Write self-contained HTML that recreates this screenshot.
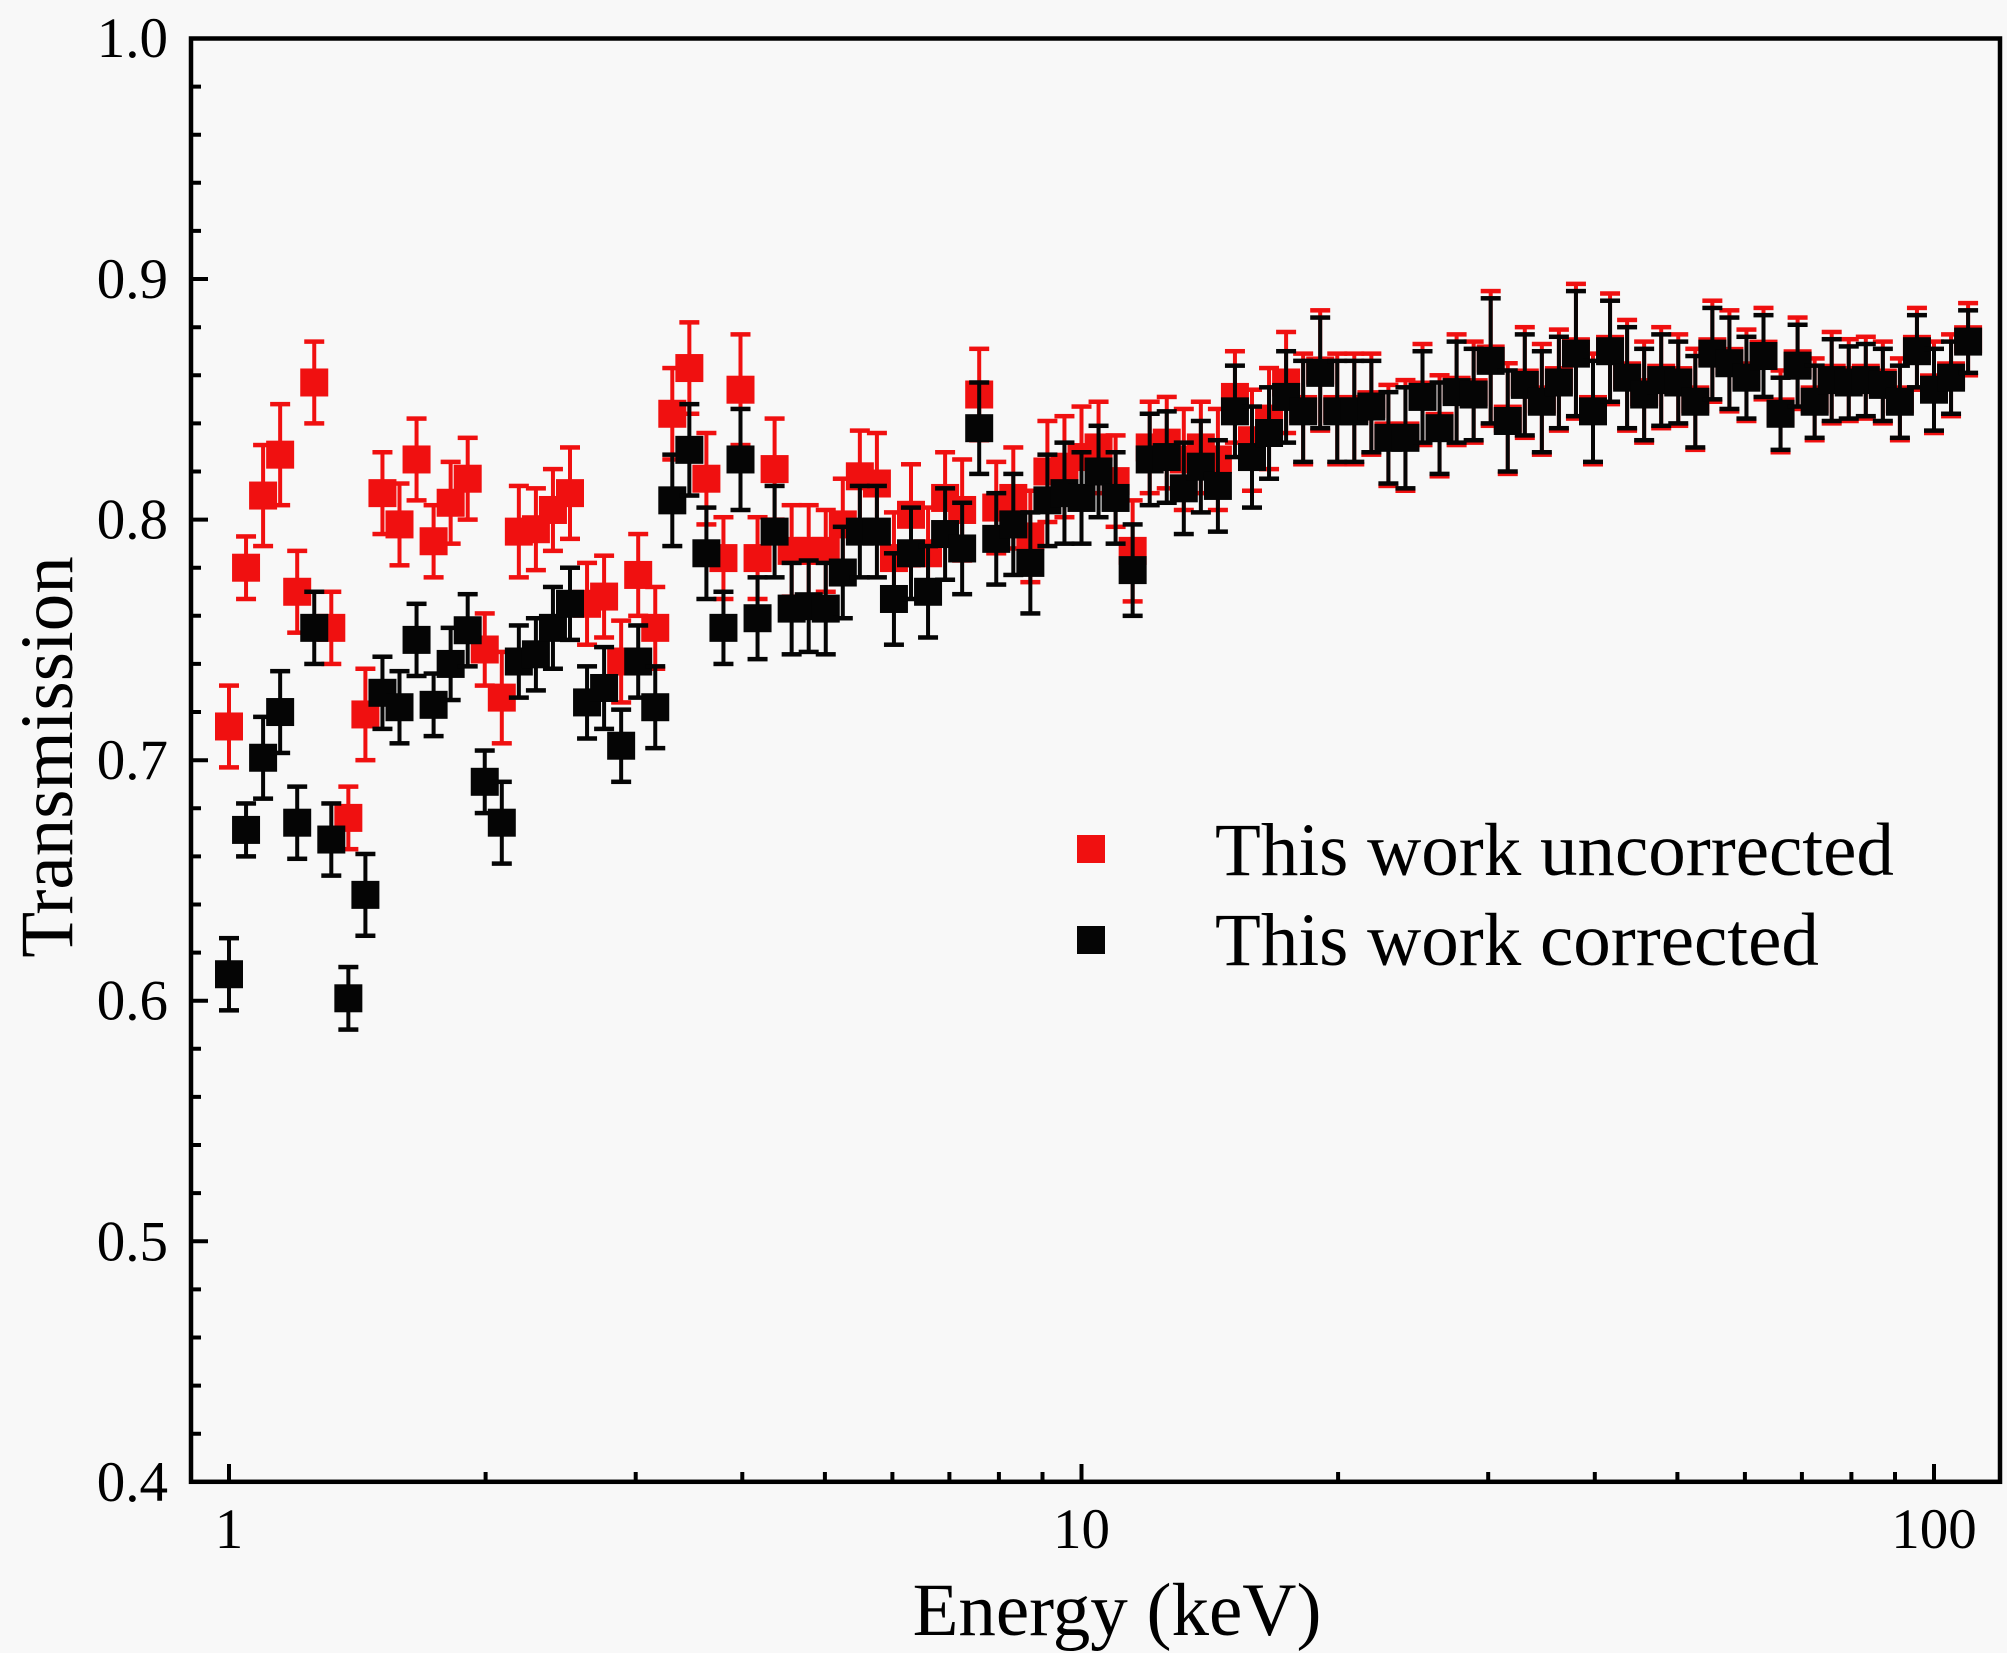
<!DOCTYPE html>
<html><head><meta charset="utf-8"><style>html,body{margin:0;padding:0;background:#f8f8f8}svg{display:block}</style></head>
<body>
<svg width="2007" height="1653" viewBox="0 0 2007 1653" xmlns="http://www.w3.org/2000/svg">
<rect width="2007" height="1653" fill="#f8f8f8"/>
<defs>
<rect id="sq" x="-.821" y="-.00582" width="1.642" height=".01164"/>
<g id="e11"><rect x="-.1173" width=".2346" y="-.011" height=".022"/><rect x="-.5865" width="1.173" y=".01006" height=".00187"/><rect x="-.5865" width="1.173" y="-.01194" height=".00187"/><use href="#sq"/></g>
<g id="e13"><rect x="-.1173" width=".2346" y="-.013" height=".026"/><rect x="-.5865" width="1.173" y=".01206" height=".00187"/><rect x="-.5865" width="1.173" y="-.01394" height=".00187"/><use href="#sq"/></g>
<g id="e15"><rect x="-.1173" width=".2346" y="-.015" height=".030"/><rect x="-.5865" width="1.173" y=".01406" height=".00187"/><rect x="-.5865" width="1.173" y="-.01594" height=".00187"/><use href="#sq"/></g>
<g id="e17"><rect x="-.1173" width=".2346" y="-.017" height=".034"/><rect x="-.5865" width="1.173" y=".01606" height=".00187"/><rect x="-.5865" width="1.173" y="-.01794" height=".00187"/><use href="#sq"/></g>
<g id="e19"><rect x="-.1173" width=".2346" y="-.019" height=".038"/><rect x="-.5865" width="1.173" y=".01806" height=".00187"/><rect x="-.5865" width="1.173" y="-.01994" height=".00187"/><use href="#sq"/></g>
<g id="e21"><rect x="-.1173" width=".2346" y="-.021" height=".042"/><rect x="-.5865" width="1.173" y=".02006" height=".00187"/><rect x="-.5865" width="1.173" y="-.02194" height=".00187"/><use href="#sq"/></g>
<g id="e23"><rect x="-.1173" width=".2346" y="-.023" height=".046"/><rect x="-.5865" width="1.173" y=".02206" height=".00187"/><rect x="-.5865" width="1.173" y="-.02394" height=".00187"/><use href="#sq"/></g>
<g id="e25"><rect x="-.1173" width=".2346" y="-.025" height=".050"/><rect x="-.5865" width="1.173" y=".02406" height=".00187"/><rect x="-.5865" width="1.173" y="-.02594" height=".00187"/><use href="#sq"/></g>
<g id="e26"><rect x="-.1173" width=".2346" y="-.026" height=".052"/><rect x="-.5865" width="1.173" y=".02506" height=".00187"/><rect x="-.5865" width="1.173" y="-.02694" height=".00187"/><use href="#sq"/></g>
<g id="e28"><rect x="-.1173" width=".2346" y="-.028" height=".056"/><rect x="-.5865" width="1.173" y=".02706" height=".00187"/><rect x="-.5865" width="1.173" y="-.02894" height=".00187"/><use href="#sq"/></g>
</defs>

<g transform="translate(229,2444) scale(17.05,-2405.5)">
<g fill="#f01010">
<use href="#e17" x="0" y=".714"/>
<use href="#e13" x="1" y=".780"/>
<use href="#e21" x="2" y=".810"/>
<use href="#e21" x="3" y=".827"/>
<use href="#e17" x="4" y=".770"/>
<use href="#e17" x="5" y=".857"/>
<use href="#e15" x="6" y=".755"/>
<use href="#e13" x="7" y=".676"/>
<use href="#e19" x="8" y=".719"/>
<use href="#e17" x="9" y=".811"/>
<use href="#e17" x="10" y=".798"/>
<use href="#e17" x="11" y=".825"/>
<use href="#e15" x="12" y=".791"/>
<use href="#e17" x="13" y=".807"/>
<use href="#e17" x="14" y=".817"/>
<use href="#e15" x="15" y=".746"/>
<use href="#e19" x="16" y=".726"/>
<use href="#e19" x="17" y=".795"/>
<use href="#e17" x="18" y=".796"/>
<use href="#e17" x="19" y=".804"/>
<use href="#e19" x="20" y=".811"/>
<use href="#e17" x="21" y=".765"/>
<use href="#e17" x="22" y=".768"/>
<use href="#e17" x="23" y=".741"/>
<use href="#e17" x="24" y=".777"/>
<use href="#e17" x="25" y=".755"/>
<use href="#e19" x="26" y=".844"/>
<use href="#e19" x="27" y=".863"/>
<use href="#e19" x="28" y=".817"/>
<use href="#e17" x="29" y=".784"/>
<use href="#e23" x="30" y=".854"/>
<use href="#e17" x="31" y=".784"/>
<use href="#e21" x="32" y=".821"/>
<use href="#e19" x="33" y=".787"/>
<use href="#e19" x="34" y=".787"/>
<use href="#e17" x="35" y=".787"/>
<use href="#e19" x="36" y=".798"/>
<use href="#e19" x="37" y=".818"/>
<use href="#e21" x="38" y=".815"/>
<use href="#e19" x="39" y=".784"/>
<use href="#e21" x="40" y=".802"/>
<use href="#e19" x="41" y=".786"/>
<use href="#e19" x="42" y=".809"/>
<use href="#e21" x="43" y=".804"/>
<use href="#e19" x="44" y=".852"/>
<use href="#e19" x="45" y=".805"/>
<use href="#e21" x="46" y=".809"/>
<use href="#e19" x="47" y=".793"/>
<use href="#e21" x="48" y=".820"/>
<use href="#e21" x="49" y=".822"/>
<use href="#e21" x="50" y=".826"/>
<use href="#e19" x="51" y=".830"/>
<use href="#e19" x="52" y=".816"/>
<use href="#e21" x="53" y=".787"/>
<use href="#e19" x="54" y=".830"/>
<use href="#e19" x="55" y=".832"/>
<use href="#e21" x="56" y=".825"/>
<use href="#e19" x="57" y=".830"/>
<use href="#e21" x="58" y=".825"/>
<use href="#e19" x="59" y=".851"/>
<use href="#e21" x="60" y=".833"/>
<use href="#e21" x="61" y=".842"/>
<use href="#e21" x="62" y=".857"/>
<use href="#e23" x="63" y=".846"/>
<use href="#e25" x="64" y=".862"/>
<use href="#e23" x="65" y=".846"/>
<use href="#e23" x="66" y=".846"/>
<use href="#e21" x="67" y=".848"/>
<use href="#e21" x="68" y=".835"/>
<use href="#e23" x="69" y=".835"/>
<use href="#e21" x="70" y=".852"/>
<use href="#e21" x="71" y=".839"/>
<use href="#e23" x="72" y=".854"/>
<use href="#e21" x="73" y=".853"/>
<use href="#e28" x="74" y=".867"/>
<use href="#e23" x="75" y=".842"/>
<use href="#e23" x="76" y=".857"/>
<use href="#e23" x="77" y=".850"/>
<use href="#e21" x="78" y=".858"/>
<use href="#e28" x="79" y=".870"/>
<use href="#e23" x="80" y=".846"/>
<use href="#e23" x="81" y=".871"/>
<use href="#e23" x="82" y=".860"/>
<use href="#e21" x="83" y=".853"/>
<use href="#e21" x="84" y=".859"/>
<use href="#e19" x="85" y=".858"/>
<use href="#e21" x="86" y=".850"/>
<use href="#e21" x="87" y=".870"/>
<use href="#e21" x="88" y=".866"/>
<use href="#e19" x="89" y=".860"/>
<use href="#e19" x="90" y=".869"/>
<use href="#e17" x="91" y=".845"/>
<use href="#e19" x="92" y=".865"/>
<use href="#e17" x="93" y=".850"/>
<use href="#e19" x="94" y=".859"/>
<use href="#e17" x="95" y=".858"/>
<use href="#e17" x="96" y=".859"/>
<use href="#e17" x="97" y=".857"/>
<use href="#e17" x="98" y=".850"/>
<use href="#e17" x="99" y=".871"/>
<use href="#e19" x="100" y=".855"/>
<use href="#e17" x="101" y=".860"/>
<use href="#e15" x="102" y=".875"/>
</g>
<g fill="#050505">
<use href="#e15" x="0" y=".611"/>
<use href="#e11" x="1" y=".671"/>
<use href="#e17" x="2" y=".701"/>
<use href="#e17" x="3" y=".720"/>
<use href="#e15" x="4" y=".674"/>
<use href="#e15" x="5" y=".755"/>
<use href="#e15" x="6" y=".667"/>
<use href="#e13" x="7" y=".601"/>
<use href="#e17" x="8" y=".644"/>
<use href="#e15" x="9" y=".728"/>
<use href="#e15" x="10" y=".722"/>
<use href="#e15" x="11" y=".750"/>
<use href="#e13" x="12" y=".723"/>
<use href="#e15" x="13" y=".740"/>
<use href="#e15" x="14" y=".754"/>
<use href="#e13" x="15" y=".691"/>
<use href="#e17" x="16" y=".674"/>
<use href="#e15" x="17" y=".741"/>
<use href="#e15" x="18" y=".744"/>
<use href="#e17" x="19" y=".755"/>
<use href="#e15" x="20" y=".765"/>
<use href="#e15" x="21" y=".724"/>
<use href="#e17" x="22" y=".730"/>
<use href="#e15" x="23" y=".706"/>
<use href="#e15" x="24" y=".741"/>
<use href="#e17" x="25" y=".722"/>
<use href="#e19" x="26" y=".808"/>
<use href="#e19" x="27" y=".829"/>
<use href="#e19" x="28" y=".786"/>
<use href="#e15" x="29" y=".755"/>
<use href="#e21" x="30" y=".825"/>
<use href="#e17" x="31" y=".759"/>
<use href="#e19" x="32" y=".795"/>
<use href="#e19" x="33" y=".763"/>
<use href="#e19" x="34" y=".764"/>
<use href="#e19" x="35" y=".763"/>
<use href="#e19" x="36" y=".778"/>
<use href="#e19" x="37" y=".795"/>
<use href="#e19" x="38" y=".795"/>
<use href="#e19" x="39" y=".767"/>
<use href="#e19" x="40" y=".786"/>
<use href="#e19" x="41" y=".770"/>
<use href="#e19" x="42" y=".794"/>
<use href="#e19" x="43" y=".788"/>
<use href="#e19" x="44" y=".838"/>
<use href="#e19" x="45" y=".792"/>
<use href="#e21" x="46" y=".798"/>
<use href="#e21" x="47" y=".782"/>
<use href="#e19" x="48" y=".808"/>
<use href="#e21" x="49" y=".811"/>
<use href="#e19" x="50" y=".809"/>
<use href="#e19" x="51" y=".820"/>
<use href="#e19" x="52" y=".809"/>
<use href="#e19" x="53" y=".779"/>
<use href="#e19" x="54" y=".825"/>
<use href="#e19" x="55" y=".826"/>
<use href="#e19" x="56" y=".813"/>
<use href="#e19" x="57" y=".822"/>
<use href="#e19" x="58" y=".814"/>
<use href="#e19" x="59" y=".845"/>
<use href="#e21" x="60" y=".826"/>
<use href="#e19" x="61" y=".836"/>
<use href="#e19" x="62" y=".851"/>
<use href="#e21" x="63" y=".845"/>
<use href="#e23" x="64" y=".861"/>
<use href="#e21" x="65" y=".845"/>
<use href="#e21" x="66" y=".845"/>
<use href="#e19" x="67" y=".847"/>
<use href="#e19" x="68" y=".834"/>
<use href="#e21" x="69" y=".834"/>
<use href="#e19" x="70" y=".851"/>
<use href="#e19" x="71" y=".838"/>
<use href="#e21" x="72" y=".853"/>
<use href="#e19" x="73" y=".852"/>
<use href="#e26" x="74" y=".866"/>
<use href="#e21" x="75" y=".841"/>
<use href="#e21" x="76" y=".856"/>
<use href="#e21" x="77" y=".849"/>
<use href="#e19" x="78" y=".857"/>
<use href="#e26" x="79" y=".869"/>
<use href="#e21" x="80" y=".845"/>
<use href="#e21" x="81" y=".870"/>
<use href="#e21" x="82" y=".859"/>
<use href="#e19" x="83" y=".852"/>
<use href="#e19" x="84" y=".858"/>
<use href="#e17" x="85" y=".857"/>
<use href="#e19" x="86" y=".849"/>
<use href="#e19" x="87" y=".869"/>
<use href="#e19" x="88" y=".865"/>
<use href="#e17" x="89" y=".859"/>
<use href="#e17" x="90" y=".868"/>
<use href="#e15" x="91" y=".844"/>
<use href="#e17" x="92" y=".864"/>
<use href="#e15" x="93" y=".849"/>
<use href="#e17" x="94" y=".858"/>
<use href="#e15" x="95" y=".857"/>
<use href="#e15" x="96" y=".858"/>
<use href="#e15" x="97" y=".856"/>
<use href="#e15" x="98" y=".849"/>
<use href="#e15" x="99" y=".870"/>
<use href="#e17" x="100" y=".854"/>
<use href="#e15" x="101" y=".859"/>
<use href="#e13" x="102" y=".874"/>
</g>
</g>

<rect x="191" y="38.5" width="1809" height="1443.3" fill="none" stroke="#000" stroke-width="4.5"/>

<path stroke="#000" stroke-width="4" fill="none" d="M191 279H208 M191 519.6H208 M191 760.2H208 M191 1000.7H208 M191 1241.3H208 M191 86.6H201 M191 134.7H201 M191 182.8H201 M191 230.9H201 M191 327.2H201 M191 375.3H201 M191 423.4H201 M191 471.5H201 M191 567.7H201 M191 615.8H201 M191 663.9H201 M191 712H201 M191 808.3H201 M191 856.4H201 M191 904.5H201 M191 952.6H201 M191 1048.8H201 M191 1096.9H201 M191 1145H201 M191 1193.1H201 M191 1289.4H201 M191 1337.5H201 M191 1385.6H201 M191 1433.7H201 M229 1481.8V1464 M1081.5 1481.8V1464 M1934 1481.8V1464 M485.6 1481.8V1472 M635.7 1481.8V1472 M742.3 1481.8V1472 M824.9 1481.8V1472 M892.4 1481.8V1472 M949.4 1481.8V1472 M998.9 1481.8V1472 M1042.5 1481.8V1472 M1338.1 1481.8V1472 M1488.2 1481.8V1472 M1594.8 1481.8V1472 M1677.4 1481.8V1472 M1744.9 1481.8V1472 M1801.9 1481.8V1472 M1851.4 1481.8V1472 M1895 1481.8V1472"/>

<g font-family="'Liberation Serif', 'Times New Roman', serif" font-size="57" fill="#000" text-anchor="end">
<text x="168" y="57">1.0</text>
<text x="168" y="298">0.9</text>
<text x="168" y="538.6">0.8</text>
<text x="168" y="779.2">0.7</text>
<text x="168" y="1019.7">0.6</text>
<text x="168" y="1260.3">0.5</text>
<text x="168" y="1500.8">0.4</text>
</g>
<g font-family="'Liberation Serif', 'Times New Roman', serif" font-size="57" fill="#000" text-anchor="middle">
<text x="229" y="1548">1</text>
<text x="1081.5" y="1548">10</text>
<text x="1934" y="1548">100</text>
</g>

<text x="1117" y="1635" font-family="'Liberation Serif', 'Times New Roman', serif" font-size="75" text-anchor="middle" fill="#000">Energy (keV)</text>
<text transform="translate(72,757) rotate(-90)" font-family="'Liberation Serif', 'Times New Roman', serif" font-size="75" text-anchor="middle" fill="#000">Transmission</text>

<rect x="1077" y="835" width="28" height="28" fill="#f01010"/>
<rect x="1077" y="926" width="28" height="28" fill="#050505"/>
<g font-family="'Liberation Serif', 'Times New Roman', serif" font-size="75" fill="#000">
<text x="1215" y="875">This work uncorrected</text>
<text x="1215" y="965">This work corrected</text>
</g>
</svg>
</body></html>
